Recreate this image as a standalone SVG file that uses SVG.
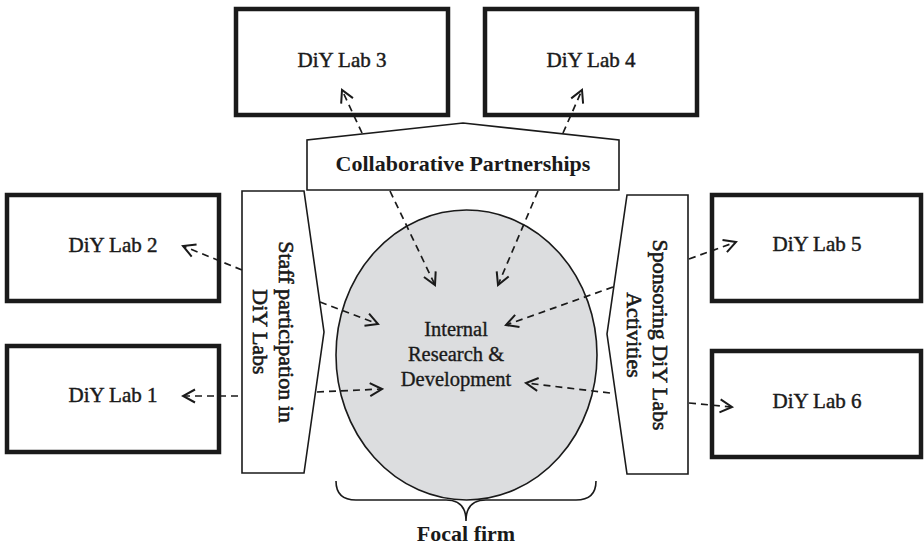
<svg xmlns="http://www.w3.org/2000/svg" width="924" height="547" viewBox="0 0 924 547">
<defs>
<style>
.lab{fill:#fff;stroke:#1a1a1a;stroke-width:4.5}
.shape{fill:#fff;stroke:#1a1a1a;stroke-width:1.6}
.t{font-family:"Liberation Serif","Times New Roman",serif;fill:#1a1a1a}
.lt{font-size:21px;text-anchor:middle;stroke:#1a1a1a;stroke-width:0.45}
.bt{font-size:22px;font-weight:bold;text-anchor:middle}
.rt{font-size:22px;text-anchor:middle;stroke:#1a1a1a;stroke-width:0.6}
.ct{font-size:20.5px;text-anchor:middle;stroke:#1a1a1a;stroke-width:0.35}
.c{fill:none;stroke:#1a1a1a;stroke-width:1.7;stroke-dasharray:7 5}
</style>
<marker id="ah" viewBox="0 0 16 16" refX="14" refY="8" markerWidth="16" markerHeight="16" markerUnits="userSpaceOnUse" orient="auto">
<path d="M2,1.5 L14,8 L2,14.5" fill="none" stroke="#1a1a1a" stroke-width="2" stroke-dasharray="none"/>
</marker>
</defs>
<rect width="924" height="547" fill="#fff"/>

<g id="lab3"><rect class="lab" x="236" y="9" width="212" height="106"/><text class="t lt" x="342" y="67">DiY Lab 3</text></g>
<g id="lab4"><rect class="lab" x="485" y="9" width="212" height="106"/><text class="t lt" x="591" y="67">DiY Lab 4</text></g>
<g id="lab2"><rect class="lab" x="7" y="195" width="212" height="106"/><text class="t lt" x="113" y="252">DiY Lab 2</text></g>
<g id="lab1"><rect class="lab" x="7" y="346" width="212" height="106"/><text class="t lt" x="113" y="402">DiY Lab 1</text></g>
<g id="lab5"><rect class="lab" x="712" y="195" width="209" height="106"/><text class="t lt" x="817" y="251">DiY Lab 5</text></g>
<g id="lab6"><rect class="lab" x="712" y="351" width="209" height="106"/><text class="t lt" x="817" y="408">DiY Lab 6</text></g>

<g id="collab"><polygon class="shape" points="307,190 307,140 463,123 619,140 619,190"/><text class="t bt" x="463" y="171">Collaborative Partnerships</text></g>

<g id="staff"><polygon class="shape" points="242,191 304,191 324,332 304,473 242,473"/>
<text class="t rt" transform="translate(279,332) rotate(90)">Staff participation in</text>
<text class="t rt" transform="translate(253,332) rotate(90)">DiY Labs</text></g>

<g id="sponsor"><polygon class="shape" points="627,195 688,195 688,474 627,474 607,334"/>
<text class="t rt" transform="translate(653,335) rotate(90)">Sponsoring DiY Labs</text>
<text class="t rt" transform="translate(627,335) rotate(90)">Activities</text></g>

<g id="rnd"><ellipse cx="466.5" cy="355" rx="130.5" ry="145" fill="#dcdddf" stroke="#1a1a1a" stroke-width="1.6"/>
<text class="t ct" x="456" y="336">Internal</text>
<text class="t ct" x="456" y="361">Research &amp;</text>
<text class="t ct" x="456" y="386">Development</text></g>

<g id="focal"><path d="M336,481 Q336,500 356,500 L446,500 Q466,500 466,521 Q466,500 486,500 L576,500 Q596,500 596,481" fill="none" stroke="#1a1a1a" stroke-width="1.6"/>
<text class="t bt" x="466" y="541">Focal firm</text></g>

<g id="connectors">
<line class="c" x1="362" y1="133" x2="342" y2="90" marker-end="url(#ah)"/>
<line class="c" x1="563" y1="133" x2="582" y2="90" marker-end="url(#ah)"/>
<line class="c" x1="242" y1="270" x2="183" y2="246" marker-end="url(#ah)"/>
<line class="c" x1="238" y1="396" x2="183" y2="396" marker-end="url(#ah)"/>
<line class="c" x1="320" y1="302" x2="378" y2="324" marker-end="url(#ah)"/>
<line class="c" x1="317" y1="392" x2="382" y2="389" marker-end="url(#ah)"/>
<line class="c" x1="390" y1="191" x2="435" y2="285" marker-end="url(#ah)"/>
<line class="c" x1="538" y1="191" x2="498" y2="285" marker-end="url(#ah)"/>
<line class="c" x1="613" y1="287" x2="506" y2="325" marker-end="url(#ah)"/>
<line class="c" x1="610" y1="393" x2="526" y2="383" marker-end="url(#ah)"/>
<line class="c" x1="689" y1="259" x2="736" y2="242" marker-end="url(#ah)"/>
<line class="c" x1="689" y1="403" x2="732" y2="407" marker-end="url(#ah)"/>
</g>
</svg>
